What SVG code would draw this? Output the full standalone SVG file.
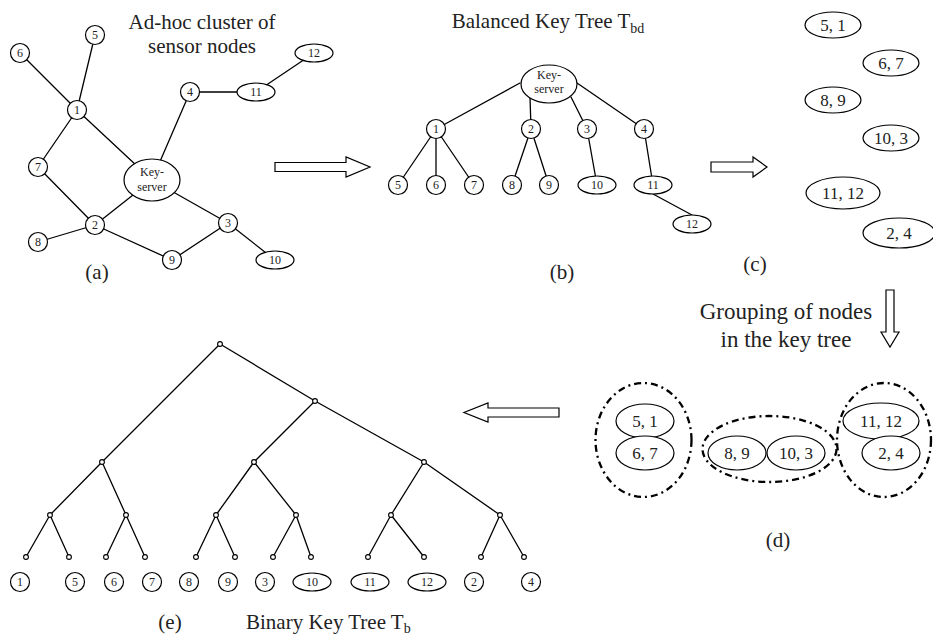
<svg xmlns="http://www.w3.org/2000/svg" width="933" height="637" viewBox="0 0 933 637">
  <style>
    .bg { fill: #ffffff; }
    .edge { stroke: #000; stroke-width: 1.3; fill: none; stroke-linecap: round; }
    .node { fill: #fff; stroke: #000; stroke-width: 1.2; }
    .dot { fill: #fff; stroke: #000; stroke-width: 1.1; }
    .lbl { font-family: "Liberation Serif", "Times New Roman", serif; font-size: 12px; fill: #222; text-anchor: middle; }
    .pair { font-family: "Liberation Serif", "Times New Roman", serif; font-size: 17px; fill: #222; text-anchor: middle; }
    .title { font-family: "Liberation Serif", "Times New Roman", serif; font-size: 21px; fill: #222; text-anchor: middle; }
    .big { font-size: 23px; }
    .sub { font-size: 14px; }
    .arrow { fill: #fff; stroke: #000; stroke-width: 1.2; stroke-linejoin: miter; }
    .group { fill: none; stroke: #000; stroke-width: 2.3; stroke-dasharray: 7 4 2 4; }
  </style>
  <rect class="bg" x="0" y="0" width="933" height="637"/>

  <!-- Panel (a): ad-hoc sensor cluster -->
  <g id="edges-a">
    <line class="edge" x1="20" y1="53" x2="77" y2="110"/>
    <line class="edge" x1="95" y1="35" x2="77" y2="110"/>
    <line class="edge" x1="77" y1="110" x2="38" y2="167"/>
    <line class="edge" x1="77" y1="110" x2="152" y2="180"/>
    <line class="edge" x1="38" y1="167" x2="95" y2="225"/>
    <line class="edge" x1="152" y1="180" x2="95" y2="225"/>
    <line class="edge" x1="152" y1="180" x2="190" y2="92"/>
    <line class="edge" x1="190" y1="92" x2="256" y2="92"/>
    <line class="edge" x1="256" y1="92" x2="314" y2="53"/>
    <line class="edge" x1="152" y1="180" x2="228" y2="223"/>
    <line class="edge" x1="95" y1="225" x2="38" y2="242"/>
    <line class="edge" x1="95" y1="225" x2="172" y2="260"/>
    <line class="edge" x1="172" y1="260" x2="228" y2="223"/>
    <line class="edge" x1="228" y1="223" x2="275" y2="260"/>
  </g>
  <g id="a-n6"><circle class="node" cx="20" cy="53" r="9.5"/><text class="lbl" x="20" y="57">6</text></g>
  <g id="a-n5"><circle class="node" cx="95" cy="35" r="9.5"/><text class="lbl" x="95" y="39">5</text></g>
  <g id="a-n1"><circle class="node" cx="77" cy="110" r="9.5"/><text class="lbl" x="77" y="114">1</text></g>
  <g id="a-n7"><circle class="node" cx="38" cy="167" r="9.5"/><text class="lbl" x="38" y="171">7</text></g>
  <g id="a-ks"><ellipse class="node" cx="152" cy="180" rx="28" ry="21"/><text class="lbl" x="152" y="176">Key-</text><text class="lbl" x="152" y="191">server</text></g>
  <g id="a-n4"><circle class="node" cx="190" cy="92" r="9.5"/><text class="lbl" x="190" y="96">4</text></g>
  <g id="a-n11"><ellipse class="node" cx="256" cy="92" rx="19" ry="9"/><text class="lbl" x="256" y="96">11</text></g>
  <g id="a-n12"><ellipse class="node" cx="314" cy="53" rx="19" ry="9"/><text class="lbl" x="314" y="57">12</text></g>
  <g id="a-n2"><circle class="node" cx="95" cy="225" r="9.5"/><text class="lbl" x="95" y="229">2</text></g>
  <g id="a-n8"><circle class="node" cx="38" cy="242" r="9.5"/><text class="lbl" x="38" y="246">8</text></g>
  <g id="a-n9"><circle class="node" cx="172" cy="260" r="9.5"/><text class="lbl" x="172" y="264">9</text></g>
  <g id="a-n3"><circle class="node" cx="228" cy="223" r="9.5"/><text class="lbl" x="228" y="227">3</text></g>
  <g id="a-n10"><ellipse class="node" cx="275" cy="260" rx="19" ry="9"/><text class="lbl" x="275" y="264">10</text></g>
  <text class="title" x="202" y="29">Ad-hoc cluster of</text>
  <text class="title" x="202" y="53">sensor nodes</text>
  <text class="title" x="97" y="279">(a)</text>

  <!-- Panel (b): balanced key tree -->
  <g id="edges-b">
    <line class="edge" x1="520" y1="83" x2="436" y2="129"/>
    <line class="edge" x1="530" y1="97" x2="531" y2="129"/>
    <line class="edge" x1="571" y1="97" x2="587" y2="129"/>
    <line class="edge" x1="577" y1="83" x2="644" y2="129"/>
    <line class="edge" x1="436" y1="129" x2="398" y2="185"/>
    <line class="edge" x1="436" y1="129" x2="436" y2="185"/>
    <line class="edge" x1="436" y1="129" x2="474" y2="185"/>
    <line class="edge" x1="531" y1="129" x2="512" y2="185"/>
    <line class="edge" x1="531" y1="129" x2="549" y2="185"/>
    <line class="edge" x1="587" y1="129" x2="597" y2="185"/>
    <line class="edge" x1="644" y1="129" x2="653" y2="185"/>
    <line class="edge" x1="653" y1="194" x2="692" y2="215"/>
  </g>
  <g id="b-ks"><ellipse class="node" cx="549" cy="84" rx="28" ry="19"/><text class="lbl" x="549" y="79">Key-</text><text class="lbl" x="549" y="93">server</text></g>
  <g id="b-n1"><circle class="node" cx="436" cy="129" r="9.5"/><text class="lbl" x="436" y="133">1</text></g>
  <g id="b-n2"><circle class="node" cx="531" cy="129" r="9.5"/><text class="lbl" x="531" y="133">2</text></g>
  <g id="b-n3"><circle class="node" cx="587" cy="129" r="9.5"/><text class="lbl" x="587" y="133">3</text></g>
  <g id="b-n4"><circle class="node" cx="644" cy="129" r="9.5"/><text class="lbl" x="644" y="133">4</text></g>
  <g id="b-n5"><circle class="node" cx="398" cy="185" r="9.5"/><text class="lbl" x="398" y="189">5</text></g>
  <g id="b-n6"><circle class="node" cx="436" cy="185" r="9.5"/><text class="lbl" x="436" y="189">6</text></g>
  <g id="b-n7"><circle class="node" cx="474" cy="185" r="9.5"/><text class="lbl" x="474" y="189">7</text></g>
  <g id="b-n8"><circle class="node" cx="512" cy="185" r="9.5"/><text class="lbl" x="512" y="189">8</text></g>
  <g id="b-n9"><circle class="node" cx="549" cy="185" r="9.5"/><text class="lbl" x="549" y="189">9</text></g>
  <g id="b-n10"><ellipse class="node" cx="597" cy="185" rx="19" ry="9"/><text class="lbl" x="597" y="189">10</text></g>
  <g id="b-n11"><ellipse class="node" cx="653" cy="185" rx="19" ry="9"/><text class="lbl" x="653" y="189">11</text></g>
  <g id="b-n12"><ellipse class="node" cx="692" cy="224" rx="19" ry="9"/><text class="lbl" x="692" y="228">12</text></g>
  <text class="title" x="548" y="28">Balanced Key Tree T<tspan class="sub" dy="5">bd</tspan></text>
  <text class="title" x="562" y="279">(b)</text>

  <!-- Panel (c): paired nodes -->
  <g id="c-51"><ellipse class="node" cx="833" cy="25" rx="28" ry="13"/><text class="pair" x="833" y="31">5, 1</text></g>
  <g id="c-67"><ellipse class="node" cx="891" cy="63" rx="28" ry="13"/><text class="pair" x="891" y="69">6, 7</text></g>
  <g id="c-89"><ellipse class="node" cx="833" cy="100" rx="28" ry="13"/><text class="pair" x="833" y="106">8, 9</text></g>
  <g id="c-103"><ellipse class="node" cx="891" cy="138" rx="28" ry="13"/><text class="pair" x="891" y="144">10, 3</text></g>
  <g id="c-1112"><ellipse class="node" cx="843" cy="193" rx="37" ry="16"/><text class="pair" x="843" y="199">11, 12</text></g>
  <g id="c-24"><ellipse class="node" cx="899" cy="233" rx="36" ry="15"/><text class="pair" x="899" y="239">2, 4</text></g>
  <text class="title" x="755" y="271">(c)</text>

  <!-- Panel (d): grouped pairs -->
  <g id="d-group1">
    <ellipse class="group" cx="643.5" cy="440" rx="48" ry="57"/>
    <g id="d-51"><ellipse class="node" cx="645" cy="421" rx="29" ry="17"/><text class="pair" x="645" y="427">5, 1</text></g>
    <g id="d-67"><ellipse class="node" cx="645" cy="453" rx="29" ry="17"/><text class="pair" x="645" y="459">6, 7</text></g>
  </g>
  <g id="d-group2">
    <ellipse class="group" cx="769.5" cy="449" rx="67" ry="33"/>
    <g id="d-89"><ellipse class="node" cx="737" cy="453" rx="29" ry="17"/><text class="pair" x="737" y="459">8, 9</text></g>
    <g id="d-103"><ellipse class="node" cx="796" cy="453" rx="29" ry="17"/><text class="pair" x="796" y="459">10, 3</text></g>
  </g>
  <g id="d-group3">
    <ellipse class="group" cx="884" cy="440" rx="47" ry="57"/>
    <g id="d-1112"><ellipse class="node" cx="881" cy="421" rx="38" ry="18"/><text class="pair" x="881" y="427">11, 12</text></g>
    <g id="d-24"><ellipse class="node" cx="891" cy="453" rx="29" ry="17"/><text class="pair" x="891" y="459">2, 4</text></g>
  </g>
  <text class="title big" x="786" y="319">Grouping of nodes</text>
  <text class="title big" x="786" y="347">in the key tree</text>
  <text class="title" x="778" y="547">(d)</text>

  <!-- Panel (e): binary key tree -->
  <g id="edges-e">
    <line class="edge" x1="220" y1="344" x2="102" y2="462"/>
    <line class="edge" x1="220" y1="344" x2="315" y2="401"/>
    <line class="edge" x1="315" y1="401" x2="254" y2="462"/>
    <line class="edge" x1="315" y1="401" x2="424" y2="462"/>
    <line class="edge" x1="102" y1="462" x2="50" y2="515"/>
    <line class="edge" x1="102" y1="462" x2="126" y2="515"/>
    <line class="edge" x1="254" y1="462" x2="216" y2="515"/>
    <line class="edge" x1="254" y1="462" x2="296" y2="515"/>
    <line class="edge" x1="424" y1="462" x2="391" y2="515"/>
    <line class="edge" x1="424" y1="462" x2="500" y2="515"/>
    <line class="edge" x1="50" y1="515" x2="26" y2="557"/>
    <line class="edge" x1="50" y1="515" x2="69" y2="557"/>
    <line class="edge" x1="126" y1="515" x2="106" y2="557"/>
    <line class="edge" x1="126" y1="515" x2="145" y2="557"/>
    <line class="edge" x1="216" y1="515" x2="196" y2="557"/>
    <line class="edge" x1="216" y1="515" x2="235" y2="557"/>
    <line class="edge" x1="296" y1="515" x2="273" y2="557"/>
    <line class="edge" x1="296" y1="515" x2="311" y2="557"/>
    <line class="edge" x1="391" y1="515" x2="368" y2="557"/>
    <line class="edge" x1="391" y1="515" x2="424" y2="557"/>
    <line class="edge" x1="500" y1="515" x2="481" y2="557"/>
    <line class="edge" x1="500" y1="515" x2="524" y2="557"/>
  </g>
  <g id="e-inner">
    <circle class="dot" cx="220" cy="344" r="2.4"/>
    <circle class="dot" cx="315" cy="401" r="2.4"/>
    <circle class="dot" cx="102" cy="462" r="2.4"/>
    <circle class="dot" cx="254" cy="462" r="2.4"/>
    <circle class="dot" cx="424" cy="462" r="2.4"/>
    <circle class="dot" cx="50" cy="515" r="2.4"/>
    <circle class="dot" cx="126" cy="515" r="2.4"/>
    <circle class="dot" cx="216" cy="515" r="2.4"/>
    <circle class="dot" cx="296" cy="515" r="2.4"/>
    <circle class="dot" cx="391" cy="515" r="2.4"/>
    <circle class="dot" cx="500" cy="515" r="2.4"/>
    <circle class="dot" cx="26" cy="557" r="2.4"/>
    <circle class="dot" cx="69" cy="557" r="2.4"/>
    <circle class="dot" cx="106" cy="557" r="2.4"/>
    <circle class="dot" cx="145" cy="557" r="2.4"/>
    <circle class="dot" cx="196" cy="557" r="2.4"/>
    <circle class="dot" cx="235" cy="557" r="2.4"/>
    <circle class="dot" cx="273" cy="557" r="2.4"/>
    <circle class="dot" cx="311" cy="557" r="2.4"/>
    <circle class="dot" cx="368" cy="557" r="2.4"/>
    <circle class="dot" cx="424" cy="557" r="2.4"/>
    <circle class="dot" cx="481" cy="557" r="2.4"/>
    <circle class="dot" cx="524" cy="557" r="2.4"/>
  </g>
  <g id="e-l1"><circle class="node" cx="20" cy="582" r="9.5"/><text class="lbl" x="20" y="586">1</text></g>
  <g id="e-l5"><circle class="node" cx="75" cy="582" r="9.5"/><text class="lbl" x="75" y="586">5</text></g>
  <g id="e-l6"><circle class="node" cx="114" cy="582" r="9.5"/><text class="lbl" x="114" y="586">6</text></g>
  <g id="e-l7"><circle class="node" cx="152" cy="582" r="9.5"/><text class="lbl" x="152" y="586">7</text></g>
  <g id="e-l8"><circle class="node" cx="189" cy="582" r="9.5"/><text class="lbl" x="189" y="586">8</text></g>
  <g id="e-l9"><circle class="node" cx="228" cy="582" r="9.5"/><text class="lbl" x="228" y="586">9</text></g>
  <g id="e-l3"><circle class="node" cx="265" cy="582" r="9.5"/><text class="lbl" x="265" y="586">3</text></g>
  <g id="e-l10"><ellipse class="node" cx="312" cy="582" rx="19" ry="9"/><text class="lbl" x="312" y="586">10</text></g>
  <g id="e-l11"><ellipse class="node" cx="370" cy="582" rx="19" ry="9"/><text class="lbl" x="370" y="586">11</text></g>
  <g id="e-l12"><ellipse class="node" cx="427" cy="582" rx="19" ry="9"/><text class="lbl" x="427" y="586">12</text></g>
  <g id="e-l2"><circle class="node" cx="474" cy="582" r="9.5"/><text class="lbl" x="474" y="586">2</text></g>
  <g id="e-l4"><circle class="node" cx="531" cy="582" r="9.5"/><text class="lbl" x="531" y="586">4</text></g>
  <text class="title" x="170" y="629">(e)</text>
  <text class="title" x="246" y="629" style="text-anchor:start">Binary Key Tree T<tspan class="sub" dy="4">b</tspan></text>

  <!-- Transition arrows between panels -->
  <g id="arrows">
    <polygon class="arrow" points="275,162.5 346,162.5 346,157 370,167 346,177 346,171.5 275,171.5"/>
    <polygon class="arrow" points="711,162 753,162 753,157 767,167 753,177 753,172 711,172"/>
    <polygon class="arrow" points="886,290 894,290 894,332 899,332 890,347 881,332 886,332"/>
    <polygon class="arrow" points="559,408 488,408 488,403 464,412.5 488,422 488,417 559,417"/>
  </g>
</svg>
